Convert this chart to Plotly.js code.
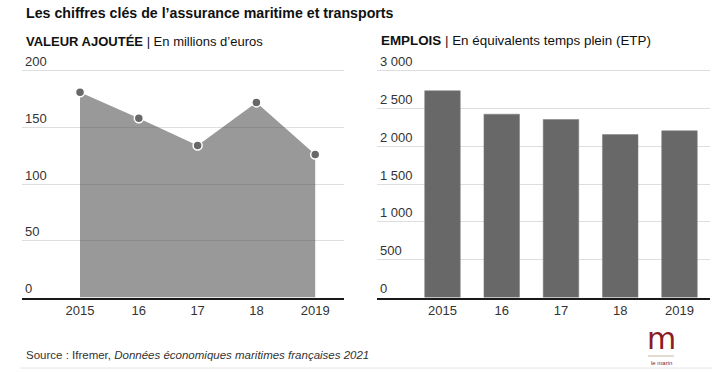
<!DOCTYPE html>
<html>
<head>
<meta charset="utf-8">
<script src="https://cdn.plot.ly/plotly-3.0.1.min.js"></script>
<style>html,body{margin:0;padding:0;background:#fff;}#chart{width:728px;height:372px;}</style>
</head>
<body>
<div id="chart"></div>
<script>
const years = ["2015", "16", "17", "18", "2019"];
const valeurAjoutee = [181, 158, 134, 172, 126];
const emplois = [2735, 2425, 2355, 2155, 2205];
const leftTicks = [0, 50, 100, 150, 200];
const rightTicks = [0, 500, 1000, 1500, 2000, 2500, 3000];

const idx = years.map((_, i) => i);
const FONT = "Liberation Sans, Arial, sans-serif";

const traces = [
  {
    type: "scatter", mode: "lines+markers", x: idx, y: valeurAjoutee,
    xaxis: "x", yaxis: "y", fill: "tozeroy", fillcolor: "rgba(80,80,80,0.58)",
    line: {color: "rgba(80,80,80,0.0)", width: 0},
    marker: {color: "#686868", size: 9, line: {color: "#ffffff", width: 1.5}},
    hoverinfo: "skip", cliponaxis: false
  },
  {
    type: "bar", x: idx, y: emplois, xaxis: "x2", yaxis: "y2",
    marker: {color: "#686868", line: {color: "#7a7a7a", width: 0.5}},
    hoverinfo: "skip"
  }
];

// plot bottom at 297.5px, top gridline at 70.7px; range extended ~25px above top gridline
const yDom = [(372 - 297.5) / 372, (372 - 45.7) / 372];
const commonY = {
  showgrid: true, gridcolor: "#dedede", gridwidth: 1, zeroline: false,
  ticks: "", ticklabelposition: "inside top", showline: false,
  tickfont: {family: FONT, size: 13, color: "#333"}, fixedrange: true
};
const commonX = {
  showgrid: false, zeroline: false, showline: true, linecolor: "#1a1a1a", linewidth: 2,
  ticks: "", tickmode: "array", tickvals: idx, ticktext: years,
  tickfont: {family: FONT, size: 13, color: "#333"}, fixedrange: true
};

const layout = {
  width: 728, height: 372,
  margin: {l: 0, r: 0, t: 0, b: 0},
  paper_bgcolor: "#fff", plot_bgcolor: "rgba(0,0,0,0)",
  showlegend: false, separators: ", ",
  bargap: 0.4,
  xaxis: Object.assign({}, commonX, {domain: [22/728, 344/728], range: [-0.987, 4.49], anchor: "y"}),
  yaxis: Object.assign({}, commonY, {domain: yDom, range: [0, 222.0], tickvals: leftTicks, anchor: "x"}),
  xaxis2: Object.assign({}, commonX, {domain: [377/728, 709.7/728], range: [-1.105, 4.51], anchor: "y2"}),
  yaxis2: Object.assign({}, commonY, {domain: yDom, range: [0, 3331], tickvals: rightTicks, separatethousands: true, tickformat: ",d", anchor: "x2"}),
  annotations: [
    {text: "<b>Les chiffres clés de l’assurance maritime et transports</b>", xref: "paper", yref: "paper",
     x: 24/728, y: 1 - 13/372, xanchor: "left", yanchor: "middle", showarrow: false,
     font: {family: FONT, size: 14.2, color: "#111"}},
    {text: "<b>VALEUR AJOUTÉE</b> | En millions d’euros", xref: "paper", yref: "paper",
     x: 24/728, y: 1 - 41/372, xanchor: "left", yanchor: "middle", showarrow: false,
     font: {family: FONT, size: 13, color: "#111"}},
    {text: "<b>EMPLOIS</b> | En équivalents temps plein (ETP)", xref: "paper", yref: "paper",
     x: 379/728, y: 1 - 40/372, xanchor: "left", yanchor: "middle", showarrow: false,
     font: {family: FONT, size: 13.4, color: "#111"}},
    {text: "Source : Ifremer, <i>Données économiques maritimes françaises 2021</i>", xref: "paper", yref: "paper",
     x: 24/728, y: 1 - 355/372, xanchor: "left", yanchor: "middle", showarrow: false,
     font: {family: FONT, size: 11.5, color: "#333"}},
    {text: "m", xref: "paper", yref: "paper",
     x: 661/728, y: 1 - 358/372, xanchor: "center", yanchor: "bottom", showarrow: false,
     font: {family: "DejaVu Sans, sans-serif", size: 30, color: "#8a1c22"}},
    {text: "le marin", xref: "paper", yref: "paper",
     x: 661/728, y: 1 - 358/372, xanchor: "center", yanchor: "top", showarrow: false,
     font: {family: FONT, size: 6, color: "#8a1c22"}}
  ],
  shapes: [
    {type: "line", xref: "paper", yref: "paper", x0: 20/728, x1: 712/728, y0: 1 - 368/372, y1: 1 - 368/372,
     line: {color: "#e6e6e6", width: 1}},
    {type: "line", xref: "paper", yref: "paper", x0: 648/728, x1: 674/728, y0: 1 - 356/372, y1: 1 - 356/372,
     line: {color: "#c9b9a0", width: 1}}
  ]
};

Plotly.newPlot("chart", traces, layout, {displayModeBar: false, staticPlot: true});
</script>
</body>
</html>
